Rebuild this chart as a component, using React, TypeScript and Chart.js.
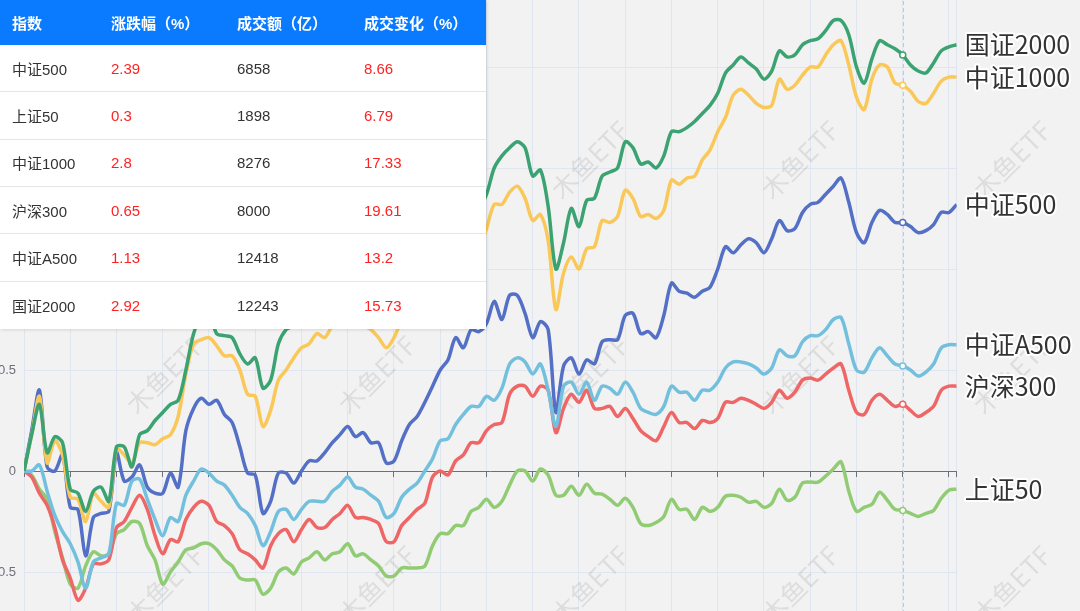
import React, { useEffect, useRef } from "react";
import { Chart, registerables } from "chart.js";

Chart.register(...registerables);

// ---------- data ----------
const SERIES_NAMES = ["中证500", "上证50", "中证1000", "沪深300", "中证A500", "国证2000"];
const SERIES_COLORS = ["#5470c6", "#91cc75", "#fac858", "#ee6666", "#73c0de", "#3ba272"];

// cumulative change per trading day (index 0..121)
const ZZ500 = [
  0, 0.20, 0.40, 0.02, 0.00, 0.08, -0.18, -0.19, -0.42, -0.23,
  -0.21, -0.20, 0.09, -0.05, -0.03, 0.03, -0.08, -0.11, -0.11, -0.01,
  -0.08, 0.20, 0.31, 0.36, 0.33, 0.35, 0.28, 0.24, 0.12, -0.01,
  -0.02, -0.21, -0.15, -0.01, -0.01, -0.06, 0.00, 0.05, 0.05, 0.09,
  0.14, 0.18, 0.22, 0.17, 0.19, 0.14, 0.14, 0.04, 0.05, 0.15,
  0.23, 0.27, 0.34, 0.42, 0.50, 0.55, 0.66, 0.61, 0.70, 0.69,
  0.73, 0.84, 0.75, 0.87, 0.87, 0.78, 0.66, 0.74, 0.70, 0.29,
  0.52, 0.56, 0.48, 0.55, 0.53, 0.64, 0.65, 0.65, 0.77, 0.78,
  0.68, 0.69, 0.66, 0.77, 0.93, 0.89, 0.88, 0.86, 0.89, 0.91,
  1.00, 1.11, 1.08, 1.12, 1.15, 1.13, 1.08, 1.15, 1.24, 1.19,
  1.20, 1.28, 1.32, 1.33, 1.37, 1.41, 1.45, 1.33, 1.18, 1.13,
  1.23, 1.29, 1.27, 1.23, 1.23, 1.21, 1.18, 1.19, 1.22, 1.28,
  1.28, 1.32,
];
const SZ50 = [
  0, -0.02, -0.09, -0.14, -0.30, -0.43, -0.56, -0.58, -0.47, -0.40,
  -0.42, -0.41, -0.31, -0.29, -0.25, -0.26, -0.37, -0.44, -0.56, -0.50,
  -0.45, -0.39, -0.38, -0.36, -0.36, -0.39, -0.44, -0.47, -0.53, -0.54,
  -0.54, -0.61, -0.58, -0.50, -0.48, -0.51, -0.45, -0.43, -0.40, -0.44,
  -0.41, -0.40, -0.36, -0.42, -0.41, -0.44, -0.47, -0.52, -0.52, -0.48,
  -0.48, -0.48, -0.47, -0.37, -0.31, -0.31, -0.27, -0.27, -0.20, -0.18,
  -0.14, -0.18, -0.15, -0.07, 0.00, 0.00, -0.05, 0.01, -0.02, -0.12,
  -0.12, -0.075, -0.12, -0.065, -0.11, -0.115, -0.14, -0.17, -0.135, -0.18,
  -0.26, -0.27, -0.255, -0.225, -0.14, -0.19, -0.19, -0.24, -0.18, -0.20,
  -0.18, -0.125, -0.12, -0.13, -0.155, -0.15, -0.18, -0.16, -0.09, -0.145,
  -0.13, -0.06, -0.055, -0.055, -0.025, 0.01, 0.045, -0.10, -0.20, -0.18,
  -0.165, -0.105, -0.145, -0.19, -0.195, -0.21, -0.225, -0.21, -0.195, -0.135,
  -0.095, -0.09,
];
const ZZ1000 = [
  0, 0.18, 0.37, 0.04, 0.15, 0.08, -0.13, -0.14, -0.25, -0.11,
  -0.15, -0.18, 0.11, 0.08, 0.04, 0.14, 0.14, 0.13, 0.16, 0.18,
  0.27, 0.48, 0.63, 0.65, 0.66, 0.62, 0.57, 0.57, 0.50, 0.38,
  0.37, 0.22, 0.30, 0.45, 0.50, 0.56, 0.61, 0.63, 0.68, 0.66,
  0.72, 0.76, 0.80, 0.74, 0.72, 0.70, 0.66, 0.61, 0.66, 0.75,
  0.82, 0.88, 0.92, 0.98, 1.02, 1.06, 1.10, 1.08, 1.12, 1.10,
  1.20, 1.32, 1.32, 1.38, 1.41, 1.35, 1.24, 1.27, 1.14, 0.80,
  0.98, 1.06, 1.00, 1.10, 1.11, 1.24, 1.23, 1.26, 1.39, 1.35,
  1.26, 1.27, 1.25, 1.29, 1.44, 1.42, 1.45, 1.46, 1.54, 1.59,
  1.68, 1.75, 1.86, 1.89, 1.86, 1.82, 1.80, 1.81, 1.94, 1.89,
  1.91, 1.96, 2.00, 2.00, 2.06, 2.11, 2.13, 2.01, 1.85, 1.79,
  1.94, 2.01, 2.00, 1.92, 1.91, 1.88, 1.83, 1.82, 1.87, 1.93,
  1.95, 1.95,
];
const HS300 = [
  0, -0.03, -0.11, -0.17, -0.28, -0.44, -0.53, -0.64, -0.58, -0.46,
  -0.46, -0.44, -0.28, -0.25, -0.18, -0.12, -0.19, -0.32, -0.41, -0.34,
  -0.35, -0.24, -0.18, -0.15, -0.17, -0.25, -0.27, -0.31, -0.39, -0.41,
  -0.44, -0.48, -0.37, -0.31, -0.29, -0.35, -0.29, -0.24, -0.28, -0.28,
  -0.24, -0.21, -0.17, -0.23, -0.23, -0.24, -0.26, -0.35, -0.35, -0.27,
  -0.23, -0.19, -0.16, -0.03, 0.00, -0.02, 0.05, 0.08, 0.14, 0.14,
  0.20, 0.23, 0.24, 0.38, 0.42, 0.42, 0.37, 0.42, 0.40, 0.19,
  0.31, 0.38, 0.34, 0.40, 0.31, 0.31, 0.32, 0.27, 0.31, 0.26,
  0.20, 0.17, 0.15, 0.22, 0.29, 0.24, 0.24, 0.21, 0.25, 0.24,
  0.26, 0.34, 0.34, 0.36, 0.35, 0.33, 0.31, 0.34, 0.40, 0.36,
  0.39, 0.45, 0.46, 0.45, 0.48, 0.51, 0.53, 0.40, 0.29, 0.28,
  0.35, 0.38, 0.35, 0.32, 0.33, 0.30, 0.27, 0.29, 0.32, 0.40,
  0.42, 0.42,
];
const ZZA500 = [
  0, 0.00, 0.03, -0.10, -0.22, -0.30, -0.36, -0.45, -0.58, -0.45,
  -0.43, -0.41, -0.16, -0.17, -0.05, -0.04, -0.14, -0.24, -0.32, -0.23,
  -0.25, -0.12, -0.05, 0.01, -0.01, -0.05, -0.07, -0.12, -0.18, -0.21,
  -0.27, -0.37, -0.30, -0.20, -0.19, -0.24, -0.19, -0.15, -0.15, -0.15,
  -0.10, -0.07, -0.03, -0.08, -0.09, -0.12, -0.15, -0.23, -0.21, -0.13,
  -0.09, -0.06, 0.00, 0.06, 0.15, 0.16, 0.23, 0.28, 0.32, 0.32,
  0.37, 0.35, 0.41, 0.53, 0.56, 0.54, 0.48, 0.53, 0.40, 0.22,
  0.42, 0.44, 0.38, 0.44, 0.35, 0.42, 0.41, 0.38, 0.44, 0.39,
  0.31, 0.29, 0.28, 0.32, 0.42, 0.39, 0.39, 0.35, 0.40, 0.40,
  0.44, 0.51, 0.54, 0.54, 0.53, 0.51, 0.48, 0.51, 0.60, 0.57,
  0.57, 0.64, 0.67, 0.67, 0.70, 0.75, 0.76, 0.63, 0.50, 0.49,
  0.56, 0.61, 0.57, 0.53, 0.52, 0.50, 0.47, 0.49, 0.53, 0.61,
  0.625, 0.625,
];
const GZ2000 = [
  0, 0.18, 0.33, 0.09, 0.17, 0.14, -0.09, -0.11, -0.20, -0.10,
  -0.08, -0.15, 0.12, 0.12, 0.02, 0.18, 0.20, 0.25, 0.29, 0.33,
  0.35, 0.50, 0.68, 0.76, 0.78, 0.68, 0.67, 0.66, 0.58, 0.53,
  0.56, 0.41, 0.45, 0.63, 0.70, 0.72, 0.76, 0.80, 0.85, 0.83,
  0.90, 0.95, 0.98, 0.93, 0.96, 0.92, 0.88, 0.82, 0.86, 0.95,
  1.02, 1.08, 1.12, 1.18, 1.22, 1.26, 1.30, 1.27, 1.32, 1.30,
  1.37, 1.50, 1.56, 1.60, 1.63, 1.60, 1.46, 1.49, 1.31, 1.00,
  1.13, 1.30, 1.21, 1.34, 1.35, 1.46, 1.48, 1.50, 1.63, 1.60,
  1.52, 1.53, 1.50, 1.56, 1.68, 1.68, 1.70, 1.73, 1.77, 1.81,
  1.87, 1.97, 2.01, 2.05, 2.02, 1.99, 1.94, 1.98, 2.08, 2.05,
  2.06, 2.11, 2.13, 2.14, 2.18, 2.23, 2.23, 2.16, 2.00, 1.92,
  2.04, 2.13, 2.11, 2.09, 2.06, 2.01, 1.98, 1.97, 2.02, 2.08,
  2.10, 2.11,
];
const SERIES_VALUES = [ZZ500, SZ50, ZZ1000, HS300, ZZA500, GZ2000];

// x axis: trading-day index, split lines every 6 days plus the last day
const DAY_INDEX = ZZ500.map((_, i) => i);
const X_TICKS = [0, 6, 12, 18, 24, 30, 36, 42, 48, 54, 60, 66, 72, 78, 84, 90, 96, 102, 108, 114, 120, 121];
const HOVER_INDEX = 114;

// y axis
const Y_MIN = -1;
const Y_MAX = 2.5;
const Y_STEP = 0.5;

// table
const TABLE_HEADERS = ["指数", "涨跌幅（%）", "成交额（亿）", "成交变化（%）"];
const TABLE_NAMES = ["中证500", "上证50", "中证1000", "沪深300", "中证A500", "国证2000"];
const TABLE_CHANGE = [2.39, 0.3, 2.8, 0.65, 1.13, 2.92];
const TABLE_AMOUNT = [6858, 1898, 8276, 8000, 12418, 12243];
const TABLE_AMOUNT_CHANGE = [8.66, 6.79, 17.33, 19.61, 13.2, 15.73];

// ---------- layout ----------
const OFF_X = 40;
const OFF_Y = 60;
const CANVAS_W = 1130;
const CANVAS_H = 760;

const watermarkPlugin = {
  id: "watermark",
  beforeDatasetsDraw(chart: any) {
    const ctx = chart.ctx;
    ctx.save();
    ctx.font = '26px "Noto Sans CJK SC", "Liberation Sans", sans-serif';
    ctx.fillStyle = "rgba(0,0,0,0.085)";
    ctx.textAlign = "center";
    ctx.textBaseline = "middle";
    const xs = [165, 377, 590, 800, 1012];
    const ys = [160, 375, 585];
    for (const cx of xs) {
      for (const cy of ys) {
        ctx.save();
        ctx.translate(cx + OFF_X, cy + OFF_Y);
        ctx.rotate(-Math.PI / 4);
        ctx.fillText("木鱼ETF", 0, 0);
        ctx.restore();
      }
    }
    ctx.restore();
  },
};

const pointerPlugin = {
  id: "pointerLine",
  beforeDatasetsDraw(chart: any) {
    const ctx = chart.ctx;
    const x = Math.round(chart.scales.x.getPixelForValue(HOVER_INDEX)) + 0.5;
    const { top, bottom } = chart.chartArea;
    ctx.save();
    ctx.strokeStyle = "#c4c7cf";
    ctx.lineWidth = 1;
    ctx.setLineDash([4, 3]);
    ctx.beginPath();
    ctx.moveTo(x, top);
    ctx.lineTo(x, bottom);
    ctx.stroke();
    ctx.restore();
  },
};

const endLabelPlugin = {
  id: "endLabels",
  afterDatasetsDraw(chart: any) {
    const ctx = chart.ctx;
    ctx.save();
    ctx.font = '25px "Noto Sans CJK SC", "Liberation Sans", sans-serif';
    ctx.textAlign = "left";
    ctx.textBaseline = "middle";
    ctx.lineJoin = "round";
    chart.data.datasets.forEach((ds: any, i: number) => {
      const meta = chart.getDatasetMeta(i);
      const pt = meta.data[meta.data.length - 1];
      if (!pt) return;
      const x = pt.x + 8;
      const y = pt.y;
      ctx.lineWidth = 4;
      ctx.strokeStyle = "#ffffff";
      ctx.strokeText(ds.label, x, y);
      ctx.fillStyle = "#333333";
      ctx.fillText(ds.label, x, y);
    });
    ctx.restore();
  },
};

function LineChart() {
  const ref = useRef<HTMLCanvasElement | null>(null);
  useEffect(() => {
    if (!ref.current) return;
    const datasets = SERIES_NAMES.map((name, i) => ({
      label: name,
      data: SERIES_VALUES[i].map((v, j) => ({ x: DAY_INDEX[j], y: v })),
      borderColor: SERIES_COLORS[i],
      backgroundColor: SERIES_COLORS[i],
      borderWidth: 3.5,
      tension: 0.3,
      fill: false,
      order: SERIES_NAMES.length - i,
      pointRadius: (c: any) => (c.dataIndex === HOVER_INDEX ? 3 : 0),
      pointHoverRadius: (c: any) => (c.dataIndex === HOVER_INDEX ? 3 : 0),
      pointBackgroundColor: "#ffffff",
      pointBorderColor: SERIES_COLORS[i],
      pointBorderWidth: 1.5,
    }));
    const chart = new Chart(ref.current, {
      type: "line",
      data: { datasets },
      options: {
        animation: false,
        responsive: false,
        devicePixelRatio: 1,
        events: [],
        layout: { padding: { left: 0, top: 26, right: 133.3, bottom: 27 } },
        plugins: {
          legend: { display: false },
          tooltip: { enabled: false },
          title: { display: false },
        },
        scales: {
          x: {
            type: "linear",
            min: 0,
            max: DAY_INDEX[DAY_INDEX.length - 1],
            position: { y: 0 } as any,
            afterBuildTicks: (scale: any) => {
              scale.ticks = X_TICKS.map((v) => ({ value: v }));
            },
            ticks: { display: false },
            grid: {
              color: "#e0e6f1",
              lineWidth: 1,
              drawTicks: true,
              tickLength: 5,
              tickColor: "#6e7079",
            },
            border: { display: true, color: "#6e7079", width: 1 },
          },
          y: {
            type: "linear",
            min: Y_MIN,
            max: Y_MAX,
            afterFit: (scale: any) => {
              scale.width = 64;
            },
            ticks: {
              stepSize: Y_STEP,
              padding: 8,
              color: "#6e7079",
              font: { size: 13, family: '"Liberation Sans", Arial, sans-serif' },
            },
            grid: { color: "#e0e6f1", lineWidth: 1, drawTicks: false },
            border: { display: false },
          },
        },
      },
      plugins: [watermarkPlugin, pointerPlugin, endLabelPlugin],
    });
    return () => chart.destroy();
  }, []);
  return (
    <canvas
      ref={ref}
      width={CANVAS_W}
      height={CANVAS_H}
      style={{
        position: "absolute",
        left: -OFF_X,
        top: -OFF_Y,
        width: CANVAS_W,
        height: CANVAS_H,
      }}
    />
  );
}

const COL_WIDTHS = [99, 126, 127, 134];
const FONT = '"Liberation Sans", Arial, "Noto Sans CJK SC", sans-serif';

function DataTable() {
  const cell = (w: number, color: string, bold = false): React.CSSProperties => ({
    width: w,
    boxSizing: "border-box",
    paddingLeft: 12,
    color,
    fontWeight: bold ? 700 : 400,
    whiteSpace: "nowrap",
  });
  return (
    <div
      style={{
        position: "absolute",
        left: 0,
        top: 0,
        width: 486,
        background: "#ffffff",
        boxShadow: "1px 1px 3px rgba(0,0,0,0.12)",
        fontFamily: FONT,
        fontSize: 15,
      }}
    >
      <div
        style={{
          display: "flex",
          alignItems: "center",
          height: 45,
          background: "#0a7aff",
        }}
      >
        {TABLE_HEADERS.map((h, i) => (
          <div key={h} style={cell(COL_WIDTHS[i], "#ffffff", true)}>
            {h}
          </div>
        ))}
      </div>
      {TABLE_NAMES.map((name, r) => (
        <div
          key={name}
          style={{
            display: "flex",
            alignItems: "center",
            height: 47.33,
            boxSizing: "border-box",
            borderBottom: r < TABLE_NAMES.length - 1 ? "1px solid #e6e6e6" : "none",
          }}
        >
          <div style={cell(COL_WIDTHS[0], "#333333")}>{name}</div>
          <div style={cell(COL_WIDTHS[1], "#ff2222")}>{String(TABLE_CHANGE[r])}</div>
          <div style={cell(COL_WIDTHS[2], "#333333")}>{String(TABLE_AMOUNT[r])}</div>
          <div style={cell(COL_WIDTHS[3], "#ff2222")}>{String(TABLE_AMOUNT_CHANGE[r])}</div>
        </div>
      ))}
    </div>
  );
}

export default function App() {
  return (
    <div
      style={{
        position: "fixed",
        left: 0,
        top: 0,
        width: 1080,
        height: 611,
        overflow: "hidden",
        background: "#f2f2f2",
      }}
    >
      <LineChart />
      <DataTable />
    </div>
  );
}
